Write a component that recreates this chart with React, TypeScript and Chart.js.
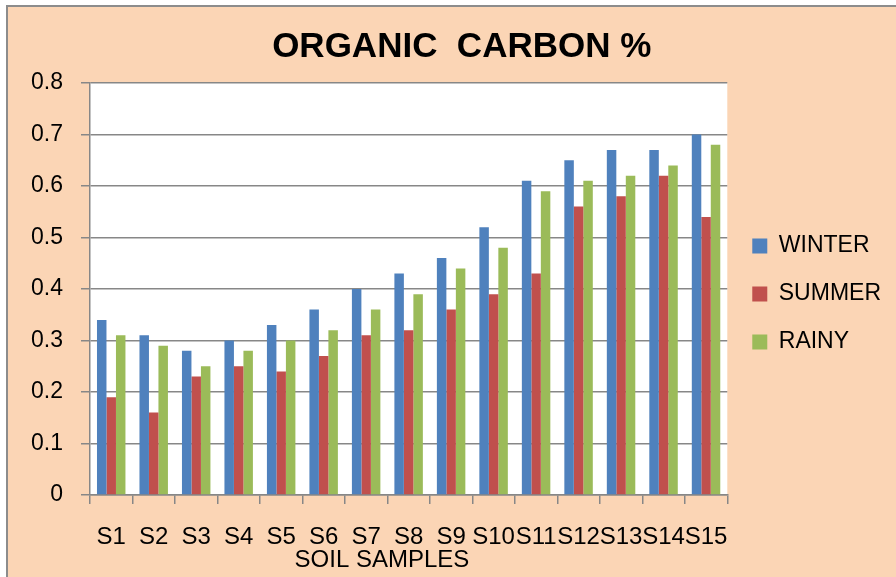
import React, { useEffect, useRef } from "react";
import { Chart, registerables } from "chart.js";

Chart.register(...registerables);

const categories = ["S1", "S2", "S3", "S4", "S5", "S6", "S7", "S8", "S9", "S10", "S11", "S12", "S13", "S14", "S15"];
const winter = [0.34, 0.31, 0.28, 0.30, 0.33, 0.36, 0.40, 0.43, 0.46, 0.52, 0.61, 0.65, 0.67, 0.67, 0.70];
const summer = [0.19, 0.16, 0.23, 0.25, 0.24, 0.27, 0.31, 0.32, 0.36, 0.39, 0.43, 0.56, 0.58, 0.62, 0.54];
const rainy = [0.31, 0.29, 0.25, 0.28, 0.30, 0.32, 0.36, 0.39, 0.44, 0.48, 0.59, 0.61, 0.62, 0.64, 0.68];
const seriesNames = ["WINTER", "SUMMER", "RAINY"];
const yTickLabels = ["0", "0.1", "0.2", "0.3", "0.4", "0.5", "0.6", "0.7", "0.8"];
const titleText = "ORGANIC  CARBON %";
const xTitleText = "SOIL SAMPLES";

const FONT = "'Liberation Sans', Arial, sans-serif";
const GRID = "#878787";

const plotBg = {
  id: "plotBg",
  beforeDraw(chart: any) {
    const { ctx, chartArea } = chart;
    ctx.save();
    ctx.fillStyle = "#ffffff";
    ctx.fillRect(chartArea.left, chartArea.top, chartArea.right - chartArea.left, chartArea.bottom - chartArea.top);
    ctx.restore();
  },
};

export default function App() {
  const ref = useRef<HTMLCanvasElement | null>(null);
  useEffect(() => {
    if (!ref.current) return;
    const chart = new Chart(ref.current, {
      type: "bar",
      data: {
        labels: categories,
        datasets: [
          { label: seriesNames[0], data: winter, backgroundColor: "#4F81BD" },
          { label: seriesNames[1], data: summer, backgroundColor: "#C0504D" },
          { label: seriesNames[2], data: rainy, backgroundColor: "#9BBB59" },
        ],
      },
      options: {
        responsive: false,
        animation: false,
        devicePixelRatio: 1,
        layout: { padding: { left: 13, right: 5, top: 0, bottom: 5 } },
        datasets: { bar: { categoryPercentage: 0.67, barPercentage: 1.0, borderWidth: 0 } },
        plugins: {
          title: {
            display: true,
            text: "  " + titleText,
            color: "#000",
            font: { family: FONT, size: 35, weight: "bold", lineHeight: 1 },
            padding: { top: 30, bottom: 18 },
          },
          legend: {
            display: true,
            position: "right",
            fullSize: false,
            title: { display: true, text: " ", font: { size: 10, lineHeight: 1 }, padding: 0 },
            labels: {
              boxWidth: 15,
              boxHeight: 15,
              padding: 25,
              color: "#000",
              font: { family: FONT, size: 23 },
            },
          },
          tooltip: { enabled: false },
        },
        scales: {
          x: {
            offset: true,
            grid: {
              offset: true,
              drawOnChartArea: false,
              drawTicks: true,
              tickLength: 9,
              color: GRID,
              lineWidth: 1.5,
            },
            border: { display: true, color: GRID, width: 1.5 },
            ticks: {
              color: "#000",
              padding: 21,
              maxRotation: 0,
              autoSkip: false,
              font: { family: FONT, size: 24, lineHeight: 1 },
            },
            title: {
              display: true,
              text: xTitleText + "        ",
              color: "#000",
              font: { family: FONT, size: 24, lineHeight: 1 },
              padding: { top: -22, bottom: 0 },
            },
          },
          y: {
            min: 0,
            max: 0.8,
            grid: {
              drawTicks: true,
              tickLength: 9,
              color: GRID,
              lineWidth: 1.5,
            },
            border: { display: true, color: GRID, width: 1.5 },
            ticks: {
              stepSize: 0.1,
              color: "#000",
              padding: 18,
              font: { family: FONT, size: 23, lineHeight: 1 },
              callback: (_v: any, i: number) => yTickLabels[i],
            },
          },
        },
      },
      plugins: [plotBg],
    });
    return () => chart.destroy();
  }, []);

  return (
    <div style={{ position: "fixed", left: 0, top: 0, width: 896, height: 577, background: "#fff", overflow: "hidden" }}>
      <div
        style={{
          position: "absolute",
          left: 6,
          top: 5,
          width: 1000,
          height: 700,
          border: "2px solid #8c8c8c",
          background: "#FBD5B5",
        }}
      />
      <canvas ref={ref} width={896} height={577} style={{ position: "absolute", left: 0, top: 0, width: 896, height: 577 }} />
    </div>
  );
}
